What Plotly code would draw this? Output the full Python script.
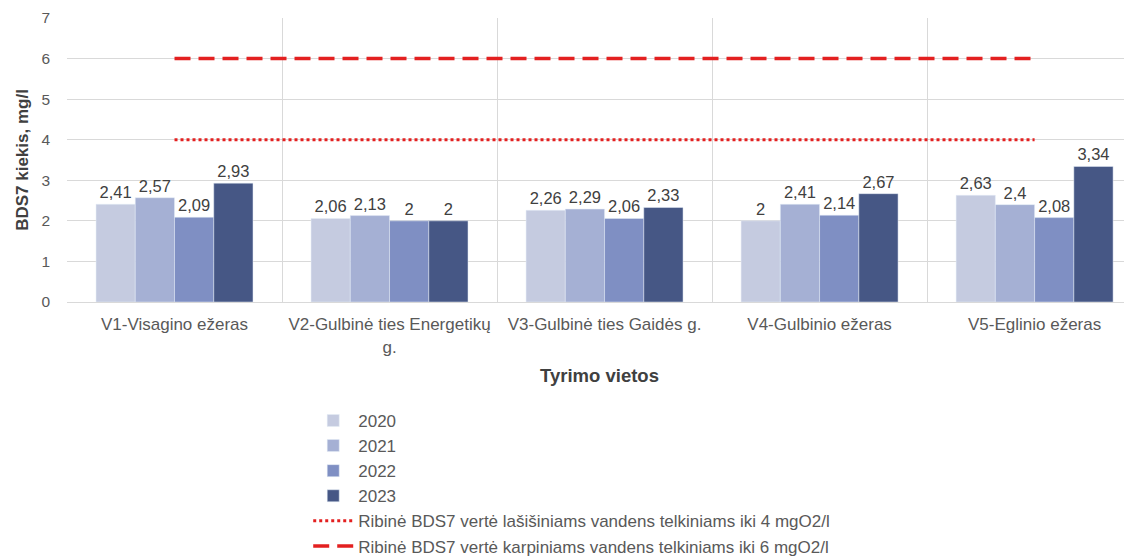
import plotly.graph_objects as go

categories = ["V1-Visagino ežeras", "V2-Gulbinė ties Energetikų<br>g.",
              "V3-Gulbinė ties Gaidės g.", "V4-Gulbinio ežeras", "V5-Eglinio ežeras"]
years = ["2020", "2021", "2022", "2023"]
values = {
    "2020": [2.41, 2.06, 2.26, 2.00, 2.63],
    "2021": [2.57, 2.13, 2.29, 2.41, 2.40],
    "2022": [2.09, 2.00, 2.06, 2.14, 2.08],
    "2023": [2.93, 2.00, 2.33, 2.67, 3.34],
}
colors = {"2020": "#c5cbe0", "2021": "#a5b0d4", "2022": "#7f8fc3", "2023": "#465785"}
limit_salmon = [4, 4, 4, 4, 4]
limit_carp = [6, 6, 6, 6, 6]
limit_salmon_name = "Ribinė BDS7 vertė lašišiniams vandens telkiniams iki 4 mgO2/l"
limit_carp_name = "Ribinė BDS7 vertė karpiniams vandens telkiniams iki 6 mgO2/l"

xpos = list(range(len(categories)))
gray = "#595959"
font_family = "Liberation Sans, Arial, sans-serif"

fig = go.Figure()
for y in years:
    fig.add_trace(go.Bar(
        x=xpos, y=values[y], name=y, marker_color=colors[y],
        text=[f"{v:g}".replace(".", ",") for v in values[y]],
        textposition="outside", cliponaxis=False,
        textfont=dict(size=16.5, color="#404040", family=font_family),
        legendgroup=y,
    ))

fig.add_trace(go.Scatter(
    x=xpos, y=limit_salmon, mode="lines", name=limit_salmon_name,
    line=dict(color="#e32020", width=3, dash="dot"), legendgroup="s",
))
fig.add_trace(go.Scatter(
    x=xpos, y=limit_carp, mode="lines", name=limit_carp_name,
    line=dict(color="#e32020", width=3.5, dash="16px,8px"), legendgroup="c",
))

fig.update_layout(
    width=1124, height=550,
    margin=dict(l=59, r=0, t=10, b=256, autoexpand=False),
    paper_bgcolor="white", plot_bgcolor="white",
    barmode="group", bargap=0.27, bargroupgap=0,
    font=dict(family=font_family, color=gray, size=14),
    showlegend=True,
    legend=dict(x=0.2265, y=0.282, xref="paper", yref="container",
                xanchor="left", yanchor="top",
                font=dict(size=17, color=gray), tracegroupgap=0,
                itemwidth=40),
)
fig.update_xaxes(
    range=[-0.5, 4.453], tickmode="array", tickvals=xpos, ticktext=categories,
    showgrid=False, ticks="", showline=True, linecolor="#d9d9d9", automargin=False,
    tickfont=dict(size=17, color=gray), ticklabelstandoff=7,
    minor=dict(tickmode="array", tickvals=[-0.5, 0.5, 1.5, 2.5, 3.5],
               showgrid=True, gridcolor="#d9d9d9", gridwidth=1.3, ticks=""),
    title=dict(text="<b>Tyrimo vietos</b>", font=dict(size=18.5, color="#404040"), standoff=13),
)
fig.update_yaxes(
    range=[0, 7], dtick=1, showgrid=True, gridcolor="#d9d9d9", gridwidth=1.3,
    zeroline=False, tickfont=dict(size=15.5, color=gray), ticks="", automargin=False,
    ticklabelstandoff=16,
    title=dict(text="<b>BDS7 kiekis, mg/l</b>", font=dict(size=17, color="#404040"), standoff=8),
)

fig.write_html("out.html")
